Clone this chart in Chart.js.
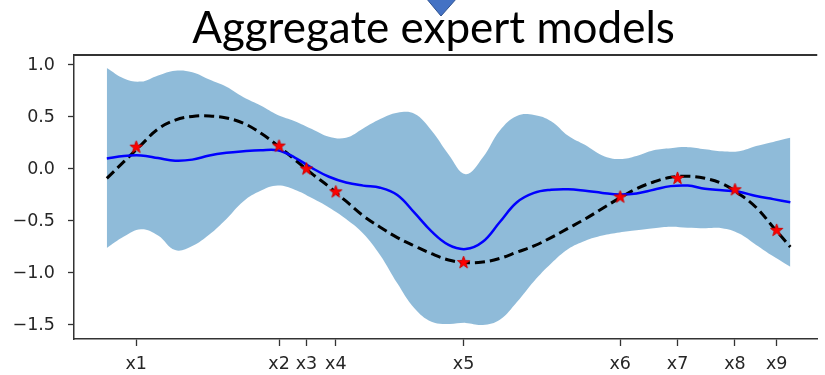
<!DOCTYPE html>
<html>
<head>
<meta charset="utf-8">
<script src="https://cdn.jsdelivr.net/npm/chart.js@4.4.0/dist/chart.umd.min.js"></script>
<style>
  html, body { margin: 0; padding: 0; background: #fff; overflow: hidden; }
  canvas { display: block; }
</style>
</head>
<body>
<canvas id="grafico" width="825" height="375"></canvas>
<script>
const gridX = [0, 0.25, 0.5, 0.75, 1, 1.25, 1.5, 1.75, 2, 2.25, 2.5, 2.75, 3, 3.25, 3.5, 3.75, 4, 4.25, 4.5, 4.75,
  5, 5.25, 5.5, 5.75, 6, 6.25, 6.5, 6.75, 7, 7.25, 7.5, 7.75, 8, 8.25, 8.5, 8.75, 9, 9.25, 9.5, 9.75, 10];

const upperBand = [0.97, 0.87, 0.84, 0.90, 0.945, 0.93, 0.86, 0.79, 0.69, 0.61, 0.52, 0.46, 0.385, 0.31, 0.30, 0.39,
  0.48, 0.54, 0.53, 0.37, 0.14, -0.05, 0.11, 0.37, 0.51, 0.52, 0.46, 0.32, 0.23, 0.13, 0.095, 0.125, 0.18, 0.20, 0.21,
  0.19, 0.17, 0.17, 0.22, 0.26, 0.30];

const lowerBand = [-0.76, -0.65, -0.58, -0.64, -0.78, -0.74, -0.63, -0.48, -0.31, -0.21, -0.16, -0.20, -0.28, -0.37,
  -0.48, -0.62, -0.83, -1.10, -1.34, -1.47, -1.49, -1.48, -1.50, -1.45, -1.28, -1.08, -0.91, -0.77, -0.69, -0.64,
  -0.61, -0.59, -0.57, -0.555, -0.565, -0.57, -0.57, -0.62, -0.73, -0.84, -0.94];

const meanPred = [0.10, 0.125, 0.13, 0.105, 0.08, 0.09, 0.13, 0.155, 0.17, 0.18, 0.18, 0.11, 0.01, -0.075, -0.13,
  -0.16, -0.18, -0.25, -0.42, -0.60, -0.73, -0.77, -0.70, -0.51, -0.32, -0.23, -0.20, -0.195, -0.21, -0.23, -0.245,
  -0.235, -0.20, -0.165, -0.16, -0.19, -0.205, -0.22, -0.26, -0.29, -0.32];

const trueFunc = [-0.09, 0.07, 0.23, 0.385, 0.47, 0.505, 0.51, 0.49, 0.44, 0.345, 0.225, 0.09, -0.045, -0.17, -0.31,
  -0.45, -0.56, -0.66, -0.74, -0.815, -0.875, -0.90, -0.895, -0.86, -0.80, -0.74, -0.66, -0.57, -0.48, -0.38, -0.28,
  -0.19, -0.125, -0.08, -0.07, -0.09, -0.14, -0.24, -0.37, -0.56, -0.75];

const obsX = [0.43, 2.52, 2.92, 3.35, 5.22, 7.51, 8.35, 9.19, 9.80];
const obsY = [0.21, 0.22, 0.0, -0.22, -0.90, -0.27, -0.09, -0.20, -0.59];
const xTickLabels = ['x1', 'x2', 'x3', 'x4', 'x5', 'x6', 'x7', 'x8', 'x9'];
const yTicks = [1.0, 0.5, 0.0, -0.5, -1.0, -1.5];
const yTickLabels = ['1.0', '0.5', '0.0', '\u22120.5', '\u22121.0', '\u22121.5'];
const titulo = 'Aggregate expert models';

const toPts = (xs, ys) => xs.map((x, i) => ({ x: x, y: ys[i] }));

function hacerEstrella(size) {
  const c = document.createElement('canvas');
  c.width = size; c.height = size;
  const g = c.getContext('2d');
  const cx = size / 2, cy = size / 2, r1 = size / 2 - 1, r2 = r1 * 0.4;
  g.beginPath();
  for (let i = 0; i < 10; i++) {
    const r = i % 2 ? r2 : r1;
    const a = -Math.PI / 2 + i * Math.PI / 5;
    g.lineTo(cx + r * Math.cos(a), cy + r * Math.sin(a));
  }
  g.closePath();
  g.fillStyle = '#ff0000';
  g.fill();
  g.strokeStyle = '#d00000';
  g.lineWidth = 1;
  g.stroke();
  return c;
}

// top spine, slide title and the tip of the slide's blue arrow
const marco = {
  id: 'marco',
  afterDraw(chart) {
    const ctx = chart.ctx;
    const area = chart.chartArea;
    ctx.save();
    ctx.fillStyle = '#333';
    ctx.fillRect(area.left - 0.75, area.top - 1, area.right - area.left + 1, 2);

    ctx.fillStyle = '#000';
    ctx.font = '44px Lato';
    ctx.textAlign = 'center';
    ctx.textBaseline = 'alphabetic';
    ctx.fillText(titulo, 433.5, 43);

    ctx.beginPath();
    ctx.moveTo(426, -2);
    ctx.lineTo(457, -2);
    ctx.lineTo(441, 16);
    ctx.closePath();
    ctx.fillStyle = '#4472c4';
    ctx.fill();
    ctx.strokeStyle = '#2f528f';
    ctx.lineWidth = 1;
    ctx.stroke();
    ctx.restore();
  }
};

const fuenteEjes = { family: 'DejaVu Sans', size: 17.5 };

new Chart(document.getElementById('grafico'), {
  type: 'line',
  data: {
    datasets: [
      { label: 'observaciones', data: toPts(obsX, obsY), showLine: false, pointStyle: hacerEstrella(15),
        pointRadius: 7, order: 0 },
      { label: 'media', data: toPts(gridX, meanPred), borderColor: '#0000ff', borderWidth: 2.5, pointRadius: 0,
        tension: 0.4, fill: false, order: 1 },
      { label: 'real', data: toPts(gridX, trueFunc), borderColor: '#000', borderWidth: 3, borderDash: [10, 5],
        pointRadius: 0, tension: 0.4, fill: false, order: 2 },
      { label: 'superior', data: toPts(gridX, upperBand), borderColor: 'transparent', borderWidth: 0, pointRadius: 0,
        tension: 0.4, fill: false, order: 3 },
      { label: 'inferior', data: toPts(gridX, lowerBand), borderColor: 'transparent', borderWidth: 0, pointRadius: 0,
        tension: 0.4, fill: '-1', backgroundColor: 'rgba(31,119,180,0.5)', order: 4 }
    ]
  },
  options: {
    responsive: false,
    animation: false,
    events: [],
    layout: { padding: { left: 0, right: 0, top: 55, bottom: 0 } },
    plugins: {
      legend: { display: false },
      tooltip: { enabled: false },
      title: { display: false }
    },
    scales: {
      x: {
        type: 'linear',
        min: -0.48,
        max: 10.39,
        afterFit: s => { s.height = 36; },
        afterBuildTicks: s => { s.ticks = obsX.map(v => ({ value: v })); },
        grid: { drawOnChartArea: false, drawTicks: true, tickLength: 7, tickColor: '#333', tickWidth: 1.3 },
        border: { display: true, color: '#333', width: 1.5 },
        ticks: {
          autoSkip: false, maxRotation: 0, padding: 8, color: '#262626', font: fuenteEjes,
          callback: (v, i) => xTickLabels[i]
        }
      },
      y: {
        min: -1.635,
        max: 1.096,
        afterFit: s => { s.width = 74; },
        afterBuildTicks: s => { s.ticks = yTicks.map(v => ({ value: v })); },
        grid: { drawOnChartArea: false, drawTicks: true, tickLength: 6, tickColor: '#333', tickWidth: 1.3 },
        border: { display: true, color: '#333', width: 1.5 },
        ticks: {
          padding: 13, color: '#262626', font: fuenteEjes,
          callback: (v, i) => yTickLabels[i]
        }
      }
    }
  },
  plugins: [marco]
});
</script>
</body>
</html>
